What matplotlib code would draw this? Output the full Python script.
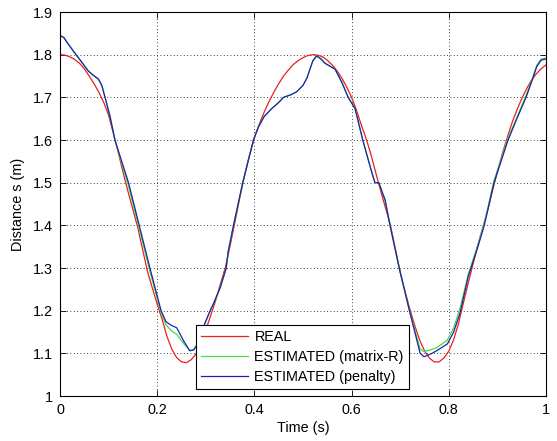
import numpy as np
import matplotlib
matplotlib.use("Agg")
import matplotlib.pyplot as plt

plt.rcParams["font.family"] = ["Liberation Sans", "DejaVu Sans"]

FS = 10.4

# REAL 轨迹（0.01 s 间隔）
t_real = np.round(np.arange(0, 1.001, 0.01), 2)
s_real = [1.800, 1.799, 1.795, 1.789, 1.780, 1.767, 1.750, 1.732, 1.712, 1.688,
          1.658, 1.615, 1.570, 1.523, 1.479, 1.437, 1.395, 1.343, 1.292, 1.253,
          1.215, 1.180, 1.140, 1.110, 1.090, 1.080, 1.078, 1.085, 1.099, 1.123,
          1.155, 1.188, 1.223, 1.262, 1.300, 1.352, 1.408, 1.465, 1.518, 1.565,
          1.605, 1.637, 1.665, 1.690, 1.712, 1.732, 1.750, 1.764, 1.777, 1.786,
          1.793, 1.798, 1.800, 1.799, 1.795, 1.787, 1.776, 1.762, 1.745, 1.724,
          1.700, 1.670, 1.635, 1.603, 1.565, 1.522, 1.480, 1.440, 1.400, 1.345,
          1.290, 1.245, 1.203, 1.165, 1.131, 1.106, 1.089, 1.080, 1.080, 1.089,
          1.105, 1.132, 1.170, 1.218, 1.265, 1.310, 1.355, 1.395, 1.435, 1.482,
          1.525, 1.567, 1.605, 1.640, 1.670, 1.697, 1.720, 1.740, 1.755, 1.767,
          1.776]

# 估计轨迹（两种方法共用时间轴）
t_est = [0.000, 0.008, 0.015, 0.031, 0.045, 0.058, 0.068, 0.079, 0.086, 0.095,
         0.103, 0.113, 0.127, 0.141, 0.152, 0.163, 0.185, 0.208, 0.218, 0.230,
         0.240, 0.255, 0.267, 0.275, 0.285, 0.295, 0.309, 0.316, 0.330, 0.342,
         0.346, 0.357, 0.376, 0.398, 0.408, 0.420, 0.436, 0.450, 0.460, 0.475,
         0.487, 0.500, 0.508, 0.520, 0.528, 0.537, 0.545, 0.566, 0.580, 0.593,
         0.607, 0.623, 0.641, 0.648, 0.656, 0.669, 0.679, 0.698, 0.719, 0.741,
         0.749, 0.762, 0.775, 0.797, 0.810, 0.823, 0.840, 0.860, 0.873, 0.893,
         0.922, 0.940, 0.959, 0.970, 0.981, 0.990, 1.000]
s_matrix = [1.845, 1.840, 1.828, 1.803, 1.782, 1.762, 1.752, 1.743, 1.728, 1.690,
            1.655, 1.600, 1.545, 1.492, 1.442, 1.392, 1.292, 1.195, 1.167, 1.152,
            1.145, 1.122, 1.107, 1.108, 1.125, 1.160, 1.200, 1.217, 1.255, 1.300,
            1.338, 1.400, 1.500, 1.600, 1.630, 1.655, 1.674, 1.688, 1.700, 1.706,
            1.713, 1.728, 1.745, 1.785, 1.797, 1.790, 1.780, 1.766, 1.735, 1.700,
            1.674, 1.600, 1.526, 1.500, 1.500, 1.459, 1.400, 1.300, 1.200, 1.110,
            1.104, 1.108, 1.113, 1.131, 1.160, 1.205, 1.285, 1.355, 1.405, 1.505,
            1.605, 1.652, 1.705, 1.738, 1.775, 1.790, 1.792]
s_penalty = [1.845, 1.840, 1.828, 1.803, 1.782, 1.762, 1.752, 1.743, 1.728, 1.690,
             1.655, 1.600, 1.550, 1.500, 1.450, 1.400, 1.300, 1.200, 1.174, 1.165,
             1.160, 1.128, 1.106, 1.108, 1.125, 1.162, 1.200, 1.217, 1.255, 1.300,
             1.338, 1.400, 1.500, 1.600, 1.630, 1.655, 1.674, 1.688, 1.700, 1.706,
             1.713, 1.728, 1.745, 1.785, 1.797, 1.790, 1.780, 1.766, 1.735, 1.700,
             1.674, 1.600, 1.526, 1.500, 1.500, 1.459, 1.400, 1.300, 1.200, 1.100,
             1.092, 1.098, 1.106, 1.122, 1.150, 1.194, 1.280, 1.350, 1.400, 1.500,
             1.600, 1.650, 1.700, 1.735, 1.772, 1.787, 1.790]

labels = ["REAL", "ESTIMATED (matrix-R)", "ESTIMATED (penalty)"]

fig = plt.figure(figsize=(5.57, 4.41), dpi=100)
ax = fig.add_axes([60 / 557, 45 / 441, 486 / 557, 384 / 441])

ax.plot(t_real, s_real, color="#e82020", lw=0.9, label=labels[0])
ax.plot(t_est, s_matrix, color="#40e040", lw=0.9, label=labels[1])
ax.plot(t_est, s_penalty, color="#2020b0", lw=0.9, label=labels[2])

ax.set_xlim(0, 1)
ax.set_ylim(1, 1.9)
ax.set_xticks(np.arange(0, 1.01, 0.2))
ax.set_xticklabels(["0", "0.2", "0.4", "0.6", "0.8", "1"])
ax.set_yticks(np.arange(1, 1.91, 0.1))
ax.set_yticklabels(["1", "1.1", "1.2", "1.3", "1.4", "1.5", "1.6", "1.7", "1.8", "1.9"])
ax.tick_params(direction="in", top=True, right=True, length=4, width=0.6,
               labelsize=FS, pad=5)
ax.grid(True, color="black", linestyle=(0, (1, 3)), linewidth=0.6)
for sp in ax.spines.values():
    sp.set_linewidth(0.8)

ax.set_xlabel("Time (s)", fontsize=FS, labelpad=3)
ax.set_ylabel("Distance s (m)", fontsize=FS, labelpad=6)

leg = ax.legend(loc="lower left", bbox_to_anchor=(0.279, 0.018), fontsize=FS,
                handlelength=3.3, handletextpad=0.42, labelspacing=0.42,
                borderpad=0.35, borderaxespad=0, fancybox=False, framealpha=1)
leg.get_frame().set_edgecolor("black")
leg.get_frame().set_linewidth(0.8)

fig.savefig("out.png", dpi=100)
